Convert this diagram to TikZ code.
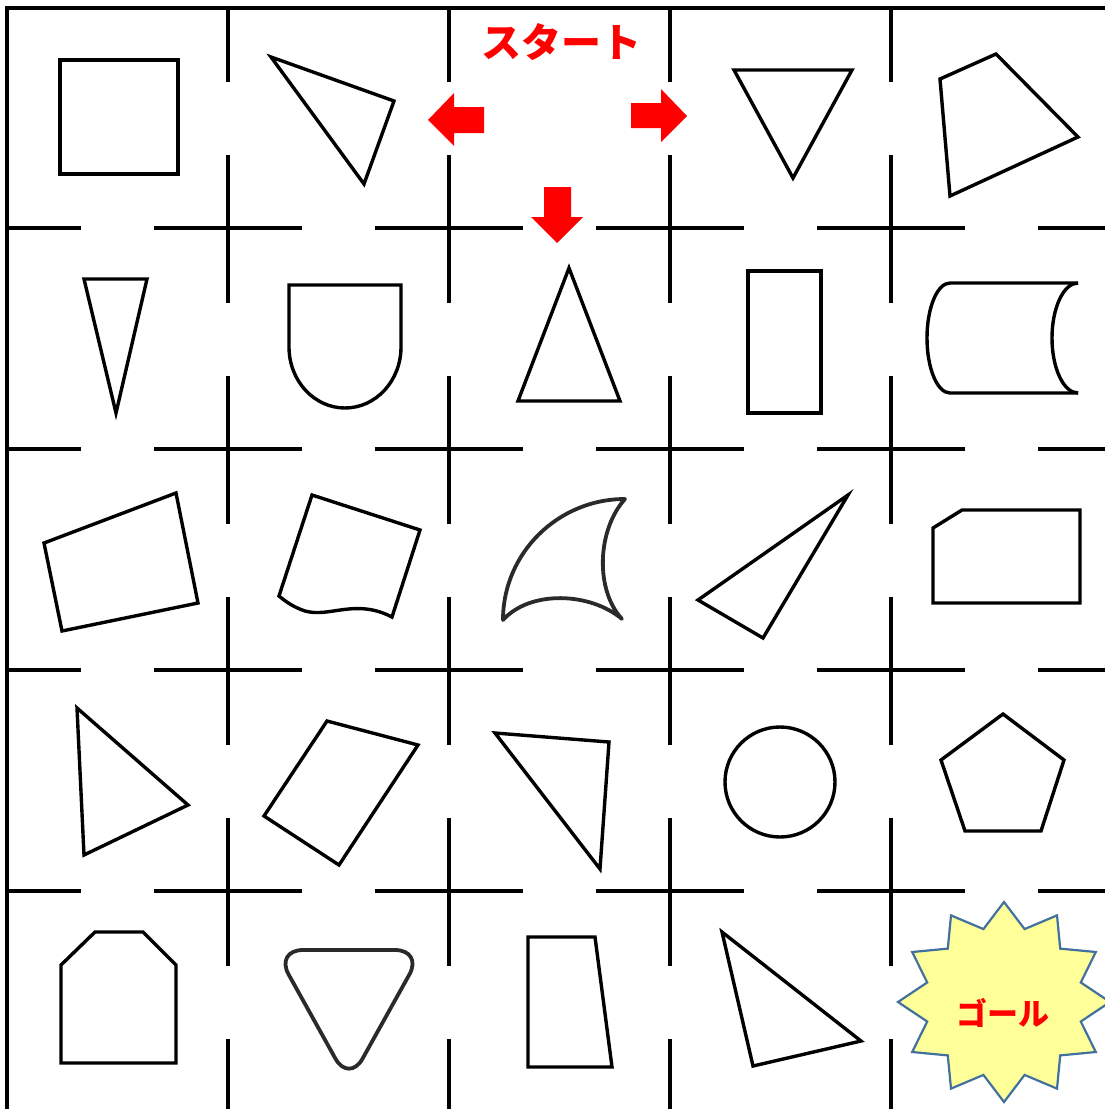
\documentclass[tikz,border=0pt]{standalone}
\usepackage{fontspec}
\newfontfamily\jpfont{Noto Sans CJK JP}
\definecolor{MarkRed}{HTML}{FF0000}
\definecolor{GoalFill}{HTML}{FFFF99}
\definecolor{GoalLine}{HTML}{41719C}
\definecolor{SoftInk}{HTML}{2A2A2A}

\begin{document}
\begin{tikzpicture}[
  x=1pt, y=-1pt,
  wall/.style={line width=3.2pt, dash pattern=on 148pt off 73pt, dash phase=74pt},
  border/.style={line width=3.2pt},
  fig/.style={draw=black, line width=3.4pt, line join=miter},
  softfig/.style={draw=SoftInk, line width=3.8pt, line join=round},
  blockarrow/.style={fill=MarkRed, draw=none},
  label/.style={text=MarkRed, font=\jpfont\bfseries, inner sep=0pt},
  burst/.style={fill=GoalFill, draw=GoalLine, line width=2.2pt, line join=miter},
]
  \useasboundingbox (0,0) rectangle (1105,1109);

  % maze walls
  \draw[border] (7,1109) -- (7,8) -- (1105,8);
  \foreach \p in {228,449,670,891} {
    \draw[wall] (\p,8) -- (\p,1109);
    \draw[wall] (7,\p) -- (1105,\p);
  }

  % row 1
  \draw[fig] (60,60) rectangle (178,174);
  \draw[fig] (271,57) -- (394,101) -- (364,184) -- cycle;
  \node[label, font=\jpfont\bfseries\fontsize{40}{48}\selectfont] (start) at (561,42) {スタート};
  \fill[blockarrow] (428,120) -- (454,93) -- (454,107) -- (484,107) -- (484,133) -- (454,133) -- (454,146) -- cycle;
  \fill[blockarrow] (687,116) -- (661,89) -- (661,103) -- (631,103) -- (631,128) -- (661,128) -- (661,142) -- cycle;
  \fill[blockarrow] (557,243) -- (531,217) -- (544,217) -- (544,187) -- (571,187) -- (571,217) -- (583,217) -- cycle;
  \draw[fig] (734,70) -- (852,70) -- (793,178) -- cycle;
  \draw[fig] (940,79) -- (996,54) -- (1078,137) -- (950,196) -- cycle;

  % row 2
  \draw[fig] (84,279) -- (147,279) -- (116,413) -- cycle;
  \draw[fig] (289,347) -- (289,285) -- (401,285) -- (401,347)
    arc[start angle=0, end angle=180, x radius=56, y radius=61] -- cycle;
  \draw[fig] (569,268) -- (620,401) -- (518,401) -- cycle;
  \draw[fig] (748,271) rectangle (821,413);
  \draw[fig] (1078,283) -- (950,283)
    arc[start angle=270, end angle=90, x radius=23, y radius=55] -- (1078,393);
  \draw[fig] (1078,393) arc[start angle=90, end angle=270, x radius=26, y radius=55];

  % row 3
  \draw[fig] (44,543) -- (176,493) -- (198,603) -- (62,631) -- cycle;
  \draw[fig] (312,495) -- (420,530) -- (392,617)
    .. controls (355,598) and (330,618) .. (305,611)
    .. controls (293,607) and (285,601) .. (279,596) -- cycle;
  \draw[softfig] (625,499) .. controls (597,530) and (595,590) .. (622,619)
    .. controls (590,592) and (530,590) .. (503,620)
    .. controls (503,553) and (558,499) .. (625,499) -- cycle;
  \draw[fig] (848,495) -- (763,638) -- (698,600) -- cycle;
  \draw[fig] (933,528) -- (962,510) -- (1080,510) -- (1080,603) -- (933,603) -- cycle;

  % row 4
  \draw[fig] (77,708) -- (188,805) -- (84,855) -- cycle;
  \draw[fig] (327,721) -- (418,745) -- (339,865) -- (264,816) -- cycle;
  \draw[fig] (495,733) -- (609,742) -- (600,869) -- cycle;
  \draw[fig] (780,782) circle[radius=55];
  \draw[fig] (1003,714) -- (1064,760) -- (1041,831) -- (965,831) -- (941,760) -- cycle;

  % row 5
  \draw[fig] (61,965) -- (95,932) -- (143,932) -- (176,965) -- (176,1063) -- (61,1063) -- cycle;
  \draw[softfig, rounded corners=28pt] (275,950) -- (423,950) -- (349,1083) -- cycle;
  \draw[fig] (528,937) -- (595,937) -- (612,1067) -- (528,1067) -- cycle;
  \draw[fig] (722,932) -- (861,1041) -- (753,1066) -- cycle;

  % goal
  \coordinate (goalc) at (1004,1002);
  \draw[burst, shift={(goalc)}] plot[samples at={0,...,23}, variable=\k]
    ({(92.75+13.25*cos(180*\k))*cos(90+15*\k)}, {-(87.75+12.25*cos(180*\k))*sin(90+15*\k)}) -- cycle;
  \node[label, font=\jpfont\bfseries\fontsize{31}{36}\selectfont] (goal) at (1003,1013) {ゴール};
\end{tikzpicture}
\end{document}
